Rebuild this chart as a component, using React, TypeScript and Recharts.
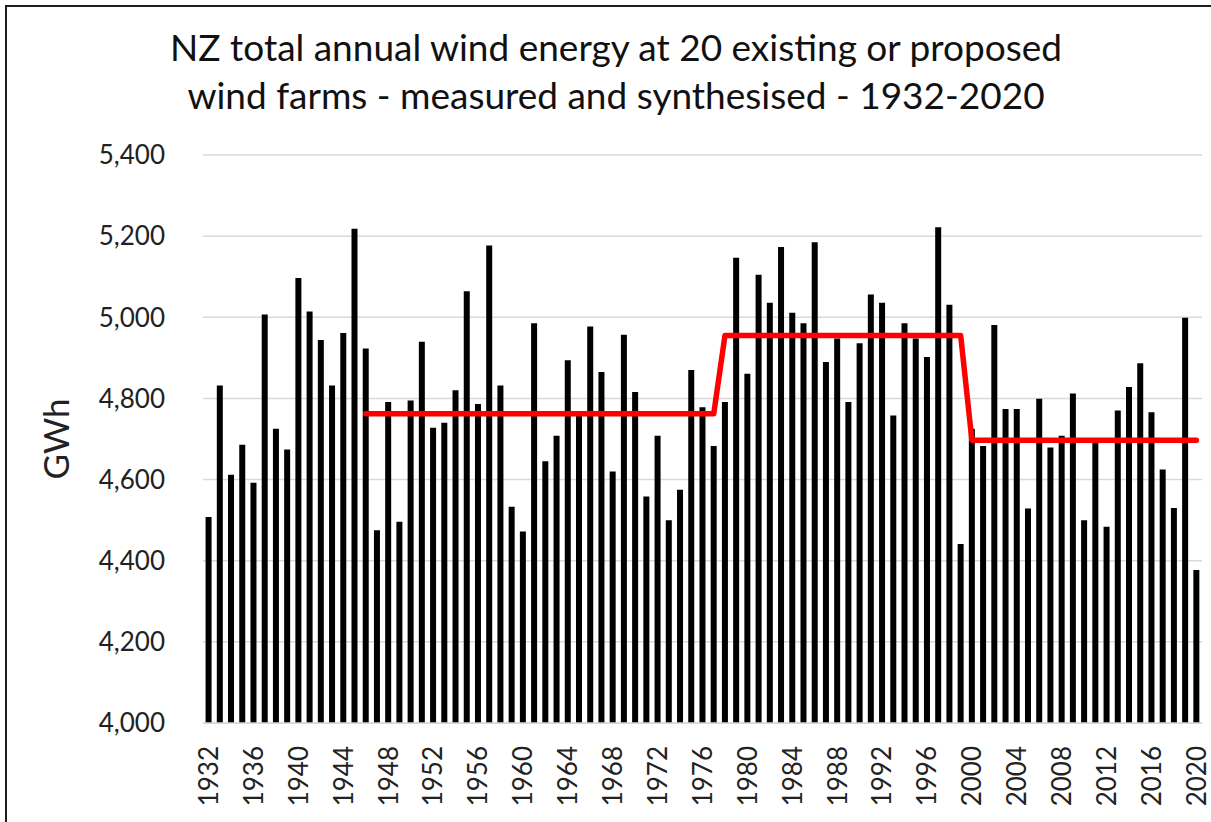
import React from 'react';
import { ComposedChart, Bar, Line, XAxis, YAxis, CartesianGrid } from 'recharts';

// Years on the category axis
const YEARS = [
  '1932', '1933', '1934', '1935', '1936', '1937', '1938', '1939', '1940', '1941',
  '1942', '1943', '1944', '1945', '1946', '1947', '1948', '1949', '1950', '1951',
  '1952', '1953', '1954', '1955', '1956', '1957', '1958', '1959', '1960', '1961',
  '1962', '1963', '1964', '1965', '1966', '1967', '1968', '1969', '1970', '1971',
  '1972', '1973', '1974', '1975', '1976', '1977', '1978', '1979', '1980', '1981',
  '1982', '1983', '1984', '1985', '1986', '1987', '1988', '1989', '1990', '1991',
  '1992', '1993', '1994', '1995', '1996', '1997', '1998', '1999', '2000', '2001',
  '2002', '2003', '2004', '2005', '2006', '2007', '2008', '2009', '2010', '2011',
  '2012', '2013', '2014', '2015', '2016', '2017', '2018', '2019', '2020',
];

// Total annual energy, GWh
const ENERGY = [
  4508, 4832, 4612, 4686, 4592, 5007, 4725, 4674, 5097, 5014,
  4944, 4832, 4961, 5218, 4923, 4475, 4791, 4496, 4795, 4940,
  4728, 4740, 4820, 5064, 4786, 5177, 4832, 4533, 4472, 4985,
  4645, 4708, 4894, 4765, 4977, 4865, 4620, 4957, 4816, 4558,
  4708, 4500, 4575, 4870, 4778, 4683, 4791, 5147, 4861, 5105,
  5036, 5173, 5011, 4985, 5185, 4890, 4948, 4791, 4936, 5056,
  5036, 4758, 4985, 4948, 4902, 5222, 5031, 4441, 4725, 4683,
  4981, 4774, 4774, 4529, 4799, 4679, 4708, 4812, 4500, 4690,
  4484, 4770, 4828, 4887, 4766, 4625, 4530, 4999, 4377,
];

// Red step line: period means (none before 1946)
const PERIOD_MEAN = [
  null, null, null, null, null, null, null, null, null, null,
  null, null, null, null, 4762, 4762, 4762, 4762, 4762, 4762,
  4762, 4762, 4762, 4762, 4762, 4762, 4762, 4762, 4762, 4762,
  4762, 4762, 4762, 4762, 4762, 4762, 4762, 4762, 4762, 4762,
  4762, 4762, 4762, 4762, 4762, 4762, 4955, 4955, 4955, 4955,
  4955, 4955, 4955, 4955, 4955, 4955, 4955, 4955, 4955, 4955,
  4955, 4955, 4955, 4955, 4955, 4955, 4955, 4955, 4697, 4697,
  4697, 4697, 4697, 4697, 4697, 4697, 4697, 4697, 4697, 4697,
  4697, 4697, 4697, 4697, 4697, 4697, 4697, 4697, 4697,
];

const Y_TICKS = [4000, 4200, 4400, 4600, 4800, 5000, 5200, 5400];

const FONT = 'Lato, "Open Sans", sans-serif';
const TEXT = '#222';

const data = YEARS.map((year, i) => ({
  year,
  energy: ENERGY[i],
  mean: PERIOD_MEAN[i],
}));

// rotated year labels under the axis
// eslint-disable-next-line @typescript-eslint/no-explicit-any
const YearTick = ({ x, y, payload }: any) => (
  <g transform={`translate(${x},${y}) rotate(-90)`}>
    <text x={-21} y={0} dy="0.36em" textAnchor="end" fontFamily={FONT} fontSize={26} fill={TEXT}>
      {payload.value}
    </text>
  </g>
);

export default function App() {
  return (
    <div
      style={{
        position: 'fixed',
        left: 0,
        top: 0,
        width: 1211,
        height: 822,
        background: '#fff',
        overflow: 'hidden',
      }}
    >
      <div
        style={{
          position: 'absolute',
          left: 5,
          top: 5,
          width: 1240,
          height: 840,
          border: '2px solid #1e1e1e',
        }}
      />
      <div
        style={{
          position: 'absolute',
          left: 116,
          width: 1000,
          top: 23,
          textAlign: 'center',
          fontFamily: FONT,
          fontSize: 37,
          lineHeight: '48px',
          color: '#111',
        }}
      >
        NZ total annual wind energy at 20 existing or proposed
        <br />
        wind farms - measured and synthesised - 1932-2020
      </div>
      <div style={{ position: 'absolute', left: 0, top: 0 }}>
        <ComposedChart
          width={1211}
          height={822}
          data={data}
          margin={{ top: 155, right: 9, bottom: 0, left: 0 }}
          barCategoryGap="23%"
        >
          <CartesianGrid vertical={false} stroke="#d9d9d9" strokeWidth={1.5} />
          <XAxis
            dataKey="year"
            interval={3}
            height={99}
            tickLine={false}
            tickSize={0}
            axisLine={{ stroke: '#d9d9d9', strokeWidth: 1.5 }}
            tick={<YearTick />}
          />
          <YAxis
            domain={[4000, 5400]}
            ticks={Y_TICKS}
            width={203}
            tickSize={0}
            tickMargin={38}
            axisLine={false}
            tickLine={false}
            tickFormatter={(v: number) => v.toLocaleString('en-US')}
            tick={{ fontFamily: FONT, fontSize: 26, fill: TEXT }}
            label={{
              value: 'GWh',
              angle: -90,
              position: 'insideLeft',
              offset: 57,
              style: { fontFamily: FONT, fontSize: 35, fill: TEXT, textAnchor: 'middle' },
            }}
          />
          <Bar dataKey="energy" fill="#000" isAnimationActive={false} />
          <Line
            type="linear"
            dataKey="mean"
            stroke="#ff0000"
            strokeWidth={5.5}
            strokeLinecap="round"
            strokeLinejoin="round"
            dot={false}
            activeDot={false}
            isAnimationActive={false}
          />
        </ComposedChart>
      </div>
    </div>
  );
}
